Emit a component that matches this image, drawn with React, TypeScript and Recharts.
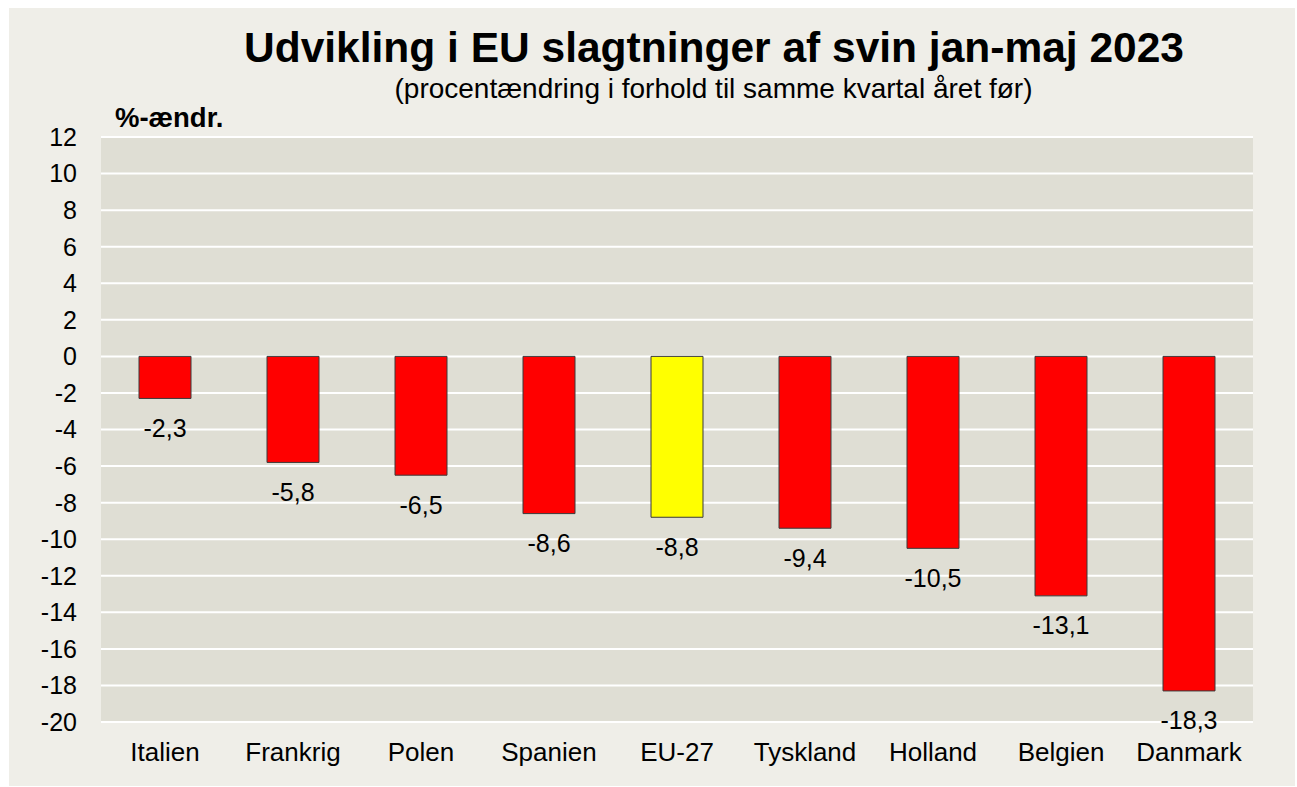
import React from 'react';
import { BarChart, Bar, XAxis, YAxis, CartesianGrid, Cell, LabelList } from 'recharts';

const categories = ['Italien', 'Frankrig', 'Polen', 'Spanien', 'EU-27', 'Tyskland', 'Holland', 'Belgien', 'Danmark'];
const values = [-2.3, -5.8, -6.5, -8.6, -8.8, -9.4, -10.5, -13.1, -18.3];
const barColors = ['#FF0000', '#FF0000', '#FF0000', '#FF0000', '#FFFF00', '#FF0000', '#FF0000', '#FF0000', '#FF0000'];
const yTicks = [-20, -18, -16, -14, -12, -10, -8, -6, -4, -2, 0, 2, 4, 6, 8, 10, 12];

const titleText = 'Udvikling i EU slagtninger af svin jan-maj 2023';
const subtitleText = '(procentændring i forhold til samme kvartal året før)';
const unitText = '%-ændr.';

const data = categories.map((c, i) => ({ name: c, value: values[i] }));

const FONT = '"Liberation Sans", Arial, Helvetica, sans-serif';
const W = 1286;
const H = 778;

const fmt = (v: number) => String(v).replace('.', ',');

const ValueLabel = (props: any) => {
  const { x, y, width, height, value } = props;
  const bottom = Math.max(Number(y), Number(y) + Number(height));
  return (
    <text
      x={Number(x) + Number(width) / 2}
      y={bottom + 38.5}
      textAnchor="middle"
      fontSize={25}
      fontFamily={FONT}
      fill="#000"
    >
      {fmt(Number(value))}
    </text>
  );
};

export default function App() {
  return (
    <div
      style={{
        position: 'absolute',
        left: 9,
        top: 8,
        width: W,
        height: H,
        background: '#EFEEE8',
        fontFamily: FONT,
      }}
    >
      <BarChart
        width={W}
        height={H}
        data={data}
        margin={{ top: 129, right: 42, left: 0, bottom: 34 }}
        barSize={52}
      >
        <CartesianGrid
          vertical={false}
          stroke="#FFFFFF"
          strokeWidth={2}
          fill="#DFDED4"
          fillOpacity={1}
        />
        <XAxis
          dataKey="name"
          axisLine={false}
          tickLine={false}
          tickSize={0}
          tickMargin={21}
          height={30}
          interval={0}
          tick={{ fontSize: 26, fill: '#000', fontFamily: FONT }}
        />
        <YAxis
          type="number"
          domain={[-20, 12]}
          ticks={yTicks}
          interval={0}
          axisLine={false}
          tickLine={false}
          tickSize={6}
          tickMargin={18}
          width={92}
          tickFormatter={(v: number) => String(v)}
          tick={{ fontSize: 25, fill: '#000', fontFamily: FONT }}
        />
        <Bar dataKey="value" isAnimationActive={false} stroke="#3A3A3A" strokeWidth={1}>
          {data.map((d, i) => (
            <Cell key={d.name} fill={barColors[i]} />
          ))}
          <LabelList dataKey="value" content={ValueLabel} />
        </Bar>
      </BarChart>
      <svg
        width={W}
        height={H}
        style={{ position: 'absolute', left: 0, top: 0, pointerEvents: 'none' }}
      >
        <text x={705} y={54} textAnchor="middle" fontSize={42.5} fontWeight="bold" fontFamily={FONT} fill="#000">
          {titleText}
        </text>
        <text x={704.5} y={90} textAnchor="middle" fontSize={28} fontFamily={FONT} fill="#000">
          {subtitleText}
        </text>
        <text x={106} y={118.5} textAnchor="start" fontSize={27.5} fontWeight="bold" fontFamily={FONT} fill="#000">
          {unitText}
        </text>
      </svg>
    </div>
  );
}
